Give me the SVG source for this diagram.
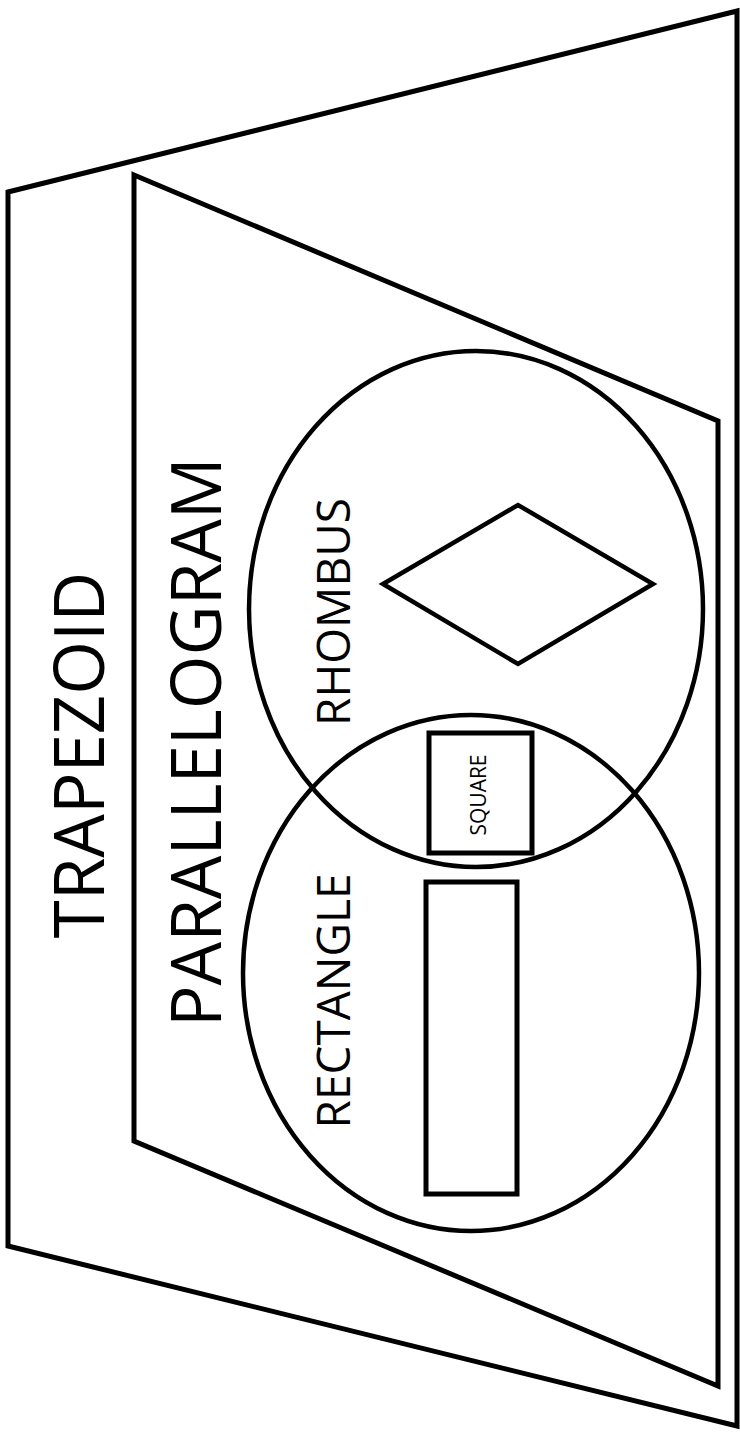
<svg xmlns="http://www.w3.org/2000/svg" width="740" height="1437" viewBox="0 0 740 1437">
<style>
.s{fill:none;stroke:#000;stroke-width:5;stroke-linejoin:miter}
.e{fill:none;stroke:#000;stroke-width:4.5}
.t{font-family:"Open Sans","Noto Sans","DejaVu Sans",sans-serif;fill:#000;text-anchor:middle}
</style>
<rect width="740" height="1437" fill="#fff"/>
<g id="trapezoid">
<polygon class="s" points="8,192 737,11 737,1426 8,1246"/>
<text class="t" font-size="69" transform="translate(104,755) rotate(-90)">TRAPEZOID</text>
</g>
<g id="parallelogram">
<polygon class="s" points="134,175 718,421 718,1386 134,1141"/>
<text class="t" font-size="69" transform="translate(221,742) rotate(-90)">PARALLELOGRAM</text>
</g>
<g id="rhombus-set">
<ellipse class="e" cx="476" cy="609" rx="227" ry="258"/>
<text class="t" font-size="46" transform="translate(350,612) rotate(-90)">RHOMBUS</text>
<polygon class="e" points="383,584 518,505 653,584 518,664"/>
</g>
<g id="rectangle-set">
<ellipse class="e" cx="471" cy="973" rx="228" ry="258"/>
<text class="t" font-size="46" transform="translate(350,1001) rotate(-90)">RECTANGLE</text>
<rect class="s" x="426" y="882" width="91" height="312"/>
</g>
<g id="square">
<rect class="s" x="429" y="733" width="103" height="120"/>
<text class="t" font-size="21" transform="translate(486,795) rotate(-90)">SQUARE</text>
</g>
<g id="connectors"></g>
</svg>
